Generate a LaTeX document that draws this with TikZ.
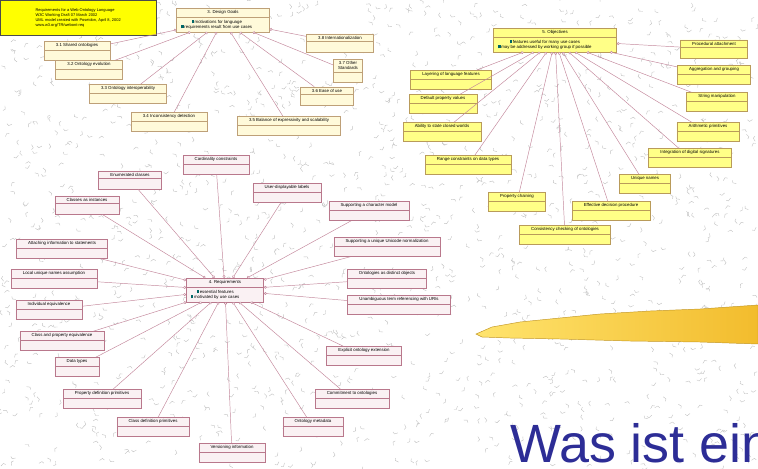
\documentclass[tikz,border=0pt]{standalone}
\usepackage{fontspec}
\setmainfont{Liberation Sans}
\usepackage{tikz}
\usetikzlibrary{positioning, shapes.multipart, arrows.meta}

\definecolor{goalfill}{RGB}{255,250,218}
\definecolor{goalline}{RGB}{190,160,120}
\definecolor{objfill}{RGB}{255,255,135}
\definecolor{objline}{RGB}{185,155,90}
\definecolor{reqfill}{RGB}{250,241,243}
\definecolor{reqline}{RGB}{185,120,140}
\definecolor{linkcol}{RGB}{195,135,155}
\definecolor{notefill}{RGB}{255,255,0}
\definecolor{titleblue}{RGB}{45,45,150}
\definecolor{brushlight}{RGB}{255,228,110}
\definecolor{brushmid}{RGB}{250,210,60}
\definecolor{brushdark}{RGB}{242,188,45}

\newcommand{\attrmark}{\textcolor{teal!80!black}{\rule{2pt}{2.4pt}}\,}

\begin{document}
\begin{tikzpicture}[x=0.03cm, y=-0.03cm,
    box/.style={rectangle split, rectangle split parts=2, draw=#1, line width=0.5pt,
        inner xsep=10pt, inner ysep=1.6pt, rectangle split empty part height=1.5pt,
        font=\fontsize{3.7}{4.3}\selectfont, align=center},
    goal/.style={box=goalline, fill=goalfill},
    obj/.style={box=objline, fill=objfill},
    req/.style={box=reqline, fill=reqfill},
    head/.style={inner xsep=4pt, inner ysep=2pt, rectangle split part align={center,left}},
    link/.style={draw=linkcol, line width=0.4pt, -{Circle[open, length=2.4pt, fill=white]}},
    speck/.style={draw=gray!48, line width=0.35pt}]

    \useasboundingbox (0,0) rectangle (758,468);
    \clip (0,0) rectangle (758,468);

    % background texture
    \pgfmathsetseed{11}
    \foreach \i in {1,...,1500} {
        \pgfmathsetmacro{\px}{rnd*758}
        \pgfmathsetmacro{\py}{rnd*468}
        \pgfmathsetmacro{\ang}{rnd*360}
        \draw[speck] (\px,\py) -- ++(\ang:3.5) -- ++(\ang+70:2.5);
    }

    % note
    \node[draw=black!70, fill=notefill, anchor=north west, minimum width=133pt,
          minimum height=30pt, inner sep=2pt, align=left,
          font=\fontsize{3.4}{4.3}\selectfont] (note) at (0,0)
        {Requirements for a Web Ontology Language\\
         W3C Working Draft 07 March 2002\\
         UML model created with Poseidon, April 8, 2002\\
         www.w3.org/TR/webont-req};

    % 3. design goals
    \node[goal, head, minimum width=79pt] (goals) at (223,20)
        {3. Design Goals \nodepart{second}
         \attrmark motivations for language\\\attrmark requirements result from use cases};
    \node[goal] (g1) at (77,51) {3.1 Shared ontologies \nodepart{second}};
    \node[goal] (g2) at (89,70) {3.2 Ontology evolution \nodepart{second}};
    \node[goal] (g3) at (128,94) {3.3 Ontology interoperability \nodepart{second}};
    \node[goal] (g4) at (169,122) {3.4 Inconsistency detection \nodepart{second}};
    \node[goal] (g5) at (289,126) {3.5 Balance of expressivity and scalability \nodepart{second}};
    \node[goal] (g6) at (327,96) {3.6 Ease of use \nodepart{second}};
    \node[goal, inner xsep=4pt] (g7) at (348,71) {3.7 Other\\Standards \nodepart{second}};
    \node[goal] (g8) at (340,43) {3.8 Internationalization \nodepart{second}};
    \foreach \i in {1,...,8}
        \draw[link] (g\i) -- (goals);

    % 5. objectives
    \node[obj, head, minimum width=105pt] (objs) at (555,40)
        {5. Objectives \nodepart{second}
         \attrmark features useful for many use cases\\\attrmark may be addressed by working group if possible};
    \node[obj] (o1) at (451,80) {Layering of language features \nodepart{second}};
    \node[obj] (o2) at (443,104) {Default property values \nodepart{second}};
    \node[obj] (o3) at (442,132) {Ability to state closed worlds \nodepart{second}};
    \node[obj] (o4) at (468,165) {Range constraints on data types \nodepart{second}};
    \node[obj] (o5) at (517,202) {Property chaining \nodepart{second}};
    \node[obj] (o6) at (565,235) {Consistency checking of ontologies \nodepart{second}};
    \node[obj] (o7) at (611,211) {Effective decision procedure \nodepart{second}};
    \node[obj] (o8) at (645,184) {Unique names \nodepart{second}};
    \node[obj] (o9) at (690,158) {Integration of digital signatures \nodepart{second}};
    \node[obj] (o10) at (708,132) {Arithmetic primitives \nodepart{second}};
    \node[obj] (o11) at (717,102) {String manipulation \nodepart{second}};
    \node[obj] (o12) at (714,75) {Aggregation and grouping \nodepart{second}};
    \node[obj] (o13) at (714,49) {Procedural attachment \nodepart{second}};
    \foreach \i in {1,...,13}
        \draw[link] (o\i) -- (objs);

    % 4. requirements
    \node[req, head, minimum width=66pt] (reqs) at (225,290)
        {4. Requirements \nodepart{second}
         \attrmark essential features\\\attrmark motivated by use cases};
    \node[req] (r1) at (216,165) {Cardinality constraints \nodepart{second}};
    \node[req] (r2) at (130,180) {Enumerated classes \nodepart{second}};
    \node[req] (r3) at (87,205) {Classes as instances \nodepart{second}};
    \node[req] (r4) at (62,249) {Attaching information to statements \nodepart{second}};
    \node[req] (r5) at (54,279) {Local unique names assumption \nodepart{second}};
    \node[req] (r6) at (49,310) {Individual equivalence \nodepart{second}};
    \node[req] (r7) at (62,341) {Class and property equivalence \nodepart{second}};
    \node[req] (r8) at (77,367) {Data types \nodepart{second}};
    \node[req] (r9) at (102,399) {Property definition primitives \nodepart{second}};
    \node[req] (r10) at (153,427) {Class definition primitives \nodepart{second}};
    \node[req] (r11) at (232,453) {Versioning information \nodepart{second}};
    \node[req] (r12) at (313,427) {Ontology metadata \nodepart{second}};
    \node[req] (r13) at (352,399) {Commitment to ontologies \nodepart{second}};
    \node[req] (r14) at (364,356) {Explicit ontology extension \nodepart{second}};
    \node[req] (r15) at (399,305) {Unambiguous term referencing with URIs \nodepart{second}};
    \node[req] (r16) at (387,279) {Ontologies as distinct objects \nodepart{second}};
    \node[req] (r17) at (387,247) {Supporting a unique Unicode normalization \nodepart{second}};
    \node[req] (r18) at (369,211) {Supporting a character model \nodepart{second}};
    \node[req] (r19) at (287,193) {User-displayable labels \nodepart{second}};
    \foreach \i in {1,...,19}
        \draw[link] (r\i) -- (reqs);

    % brush stroke
    \shade[left color=brushlight, middle color=brushmid, right color=brushdark,
           draw=brushdark!80!black, line width=0.4pt]
        (476,334) -- (492,327) -- (520,322) -- (560,318) -- (600,314) -- (650,311)
        -- (700,309) -- (758,305) -- (758,344) -- (700,342) -- (630,341)
        -- (560,339) -- (510,338) -- (482,337) -- cycle;

    % title
    \node[anchor=base west, inner sep=0, text=titleblue,
          font=\fontsize{46}{50}\selectfont] (title) at (510,462) {Was ist ein};

\end{tikzpicture}
\end{document}
